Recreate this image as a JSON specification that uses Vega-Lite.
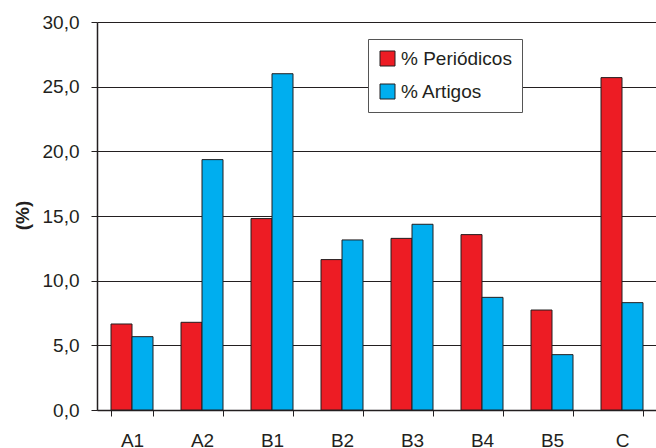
{
  "$schema": "https://vega.github.io/schema/vega-lite/v6.json",
  "autosize": "none",
  "padding": {"left": 97, "top": 22, "right": 0, "bottom": 38},
  "width": 560,
  "height": 388,
  "config": {
    "font": "Liberation Sans",
    "view": {"stroke": null},
    "axis": {"labelColor": "#231f20", "titleColor": "#231f20", "domainColor": "#231f20", "tickColor": "#231f20", "labelFontSize": 19, "labelFont": "Liberation Sans"}
  },
  "data": {
    "values": [
      {"cat": "A1", "serie": "% Periódicos", "value": 6.65},
      {"cat": "A1", "serie": "% Artigos", "value": 5.67},
      {"cat": "A2", "serie": "% Periódicos", "value": 6.78},
      {"cat": "A2", "serie": "% Artigos", "value": 19.36},
      {"cat": "B1", "serie": "% Periódicos", "value": 14.8},
      {"cat": "B1", "serie": "% Artigos", "value": 26.0},
      {"cat": "B2", "serie": "% Periódicos", "value": 11.63},
      {"cat": "B2", "serie": "% Artigos", "value": 13.15},
      {"cat": "B3", "serie": "% Periódicos", "value": 13.27},
      {"cat": "B3", "serie": "% Artigos", "value": 14.36},
      {"cat": "B4", "serie": "% Periódicos", "value": 13.56},
      {"cat": "B4", "serie": "% Artigos", "value": 8.71},
      {"cat": "B5", "serie": "% Periódicos", "value": 7.73},
      {"cat": "B5", "serie": "% Artigos", "value": 4.28},
      {"cat": "C", "serie": "% Periódicos", "value": 25.7},
      {"cat": "C", "serie": "% Artigos", "value": 8.3}
    ]
  },
  "mark": {"type": "bar", "stroke": "#231f20", "strokeWidth": 1},
  "encoding": {
    "x": {
      "field": "cat", "type": "nominal", "sort": null,
      "scale": {"paddingInner": 0.4, "paddingOuter": 0.2},
      "axis": {"title": null, "labelAngle": 0, "tickBand": "extent", "tickSize": 6, "labelPadding": 15, "grid": false, "domainWidth": 1.5}
    },
    "xOffset": {
      "field": "serie", "type": "nominal",
      "sort": ["% Periódicos", "% Artigos"],
      "scale": {"paddingInner": 0, "paddingOuter": 0}
    },
    "y": {
      "field": "value", "type": "quantitative",
      "scale": {"domain": [0, 30], "nice": false},
      "axis": {
        "title": "(%)", "titleFontSize": 19, "titleFontWeight": "bold",
        "titleX": -75, "titleY": 193, "titleBaseline": "middle", "titleAngle": -90,
        "values": [0, 5, 10, 15, 20, 25, 30],
        "labelExpr": "replace(format(datum.value, '.1f'), '.', ',')",
        "tickSize": 6, "labelPadding": 12,
        "grid": true, "gridColor": "#231f20", "gridWidth": 1, "domainWidth": 1.5
      }
    },
    "color": {
      "field": "serie", "type": "nominal",
      "scale": {"domain": ["% Periódicos", "% Artigos"], "range": ["#ED1C24", "#00AEEF"]},
      "legend": {
        "title": null, "orient": "none", "legendX": 271, "legendY": 17,
        "fillColor": "white", "strokeColor": "#555555", "padding": 10,
        "symbolType": "square", "symbolSize": 225, "symbolStrokeColor": "#231f20", "symbolStrokeWidth": 1, "symbolOpacity": 1,
        "labelFontSize": 19, "labelColor": "#231f20", "labelOffset": 4, "rowPadding": 13
      }
    }
  }
}
